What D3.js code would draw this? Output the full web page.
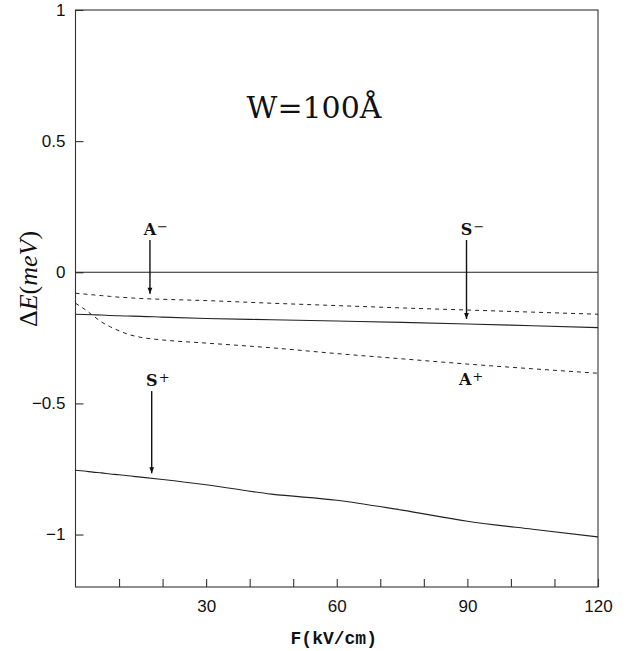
<!DOCTYPE html>
<html>
<head>
<meta charset="utf-8">
<script src="https://cdn.jsdelivr.net/npm/d3@7"></script>
<style>
  html, body { margin: 0; padding: 0; background: #fff; }
  svg { display: block; }
</style>
</head>
<body>
<svg id="chart" width="626" height="651"></svg>
<script>
// Field strength F (kV/cm) sampling grid
const fieldF = [0, 2, 4, 6, 8, 10, 12, 15, 20, 30, 45, 60, 75, 90, 105, 120];

// Energy shifts ΔE (meV) of the four levels
const aMinus = [-0.080, -0.083, -0.086, -0.089, -0.092, -0.095, -0.097, -0.100, -0.103, -0.108, -0.118, -0.127, -0.136, -0.144, -0.152, -0.160];
const sMinus = [-0.160, -0.161, -0.162, -0.163, -0.165, -0.166, -0.167, -0.168, -0.171, -0.176, -0.181, -0.186, -0.191, -0.197, -0.204, -0.211];
const aPlus  = [-0.118, -0.140, -0.165, -0.190, -0.208, -0.223, -0.236, -0.248, -0.258, -0.270, -0.288, -0.310, -0.330, -0.350, -0.368, -0.385];
const sPlus  = [-0.755, -0.758, -0.762, -0.765, -0.769, -0.772, -0.776, -0.781, -0.790, -0.810, -0.846, -0.869, -0.907, -0.949, -0.980, -1.009];

// Axis ticks
const xTicks = [10, 20, 30, 40, 50, 60, 70, 80, 90, 100, 110, 120];
const xLabelled = [30, 60, 90, 120];
const yTicks = [1, 0.5, 0, -0.5, -1];

// Level labels: letter, sign, field position, label height (meV), series the arrow points at
const labelNames = ["A", "S", "S", "A"];
const labelSigns = ["\u2212", "\u2212", "+", "+"];
const labelF     = [17.1, 89.8, 17.5, 89.5];
const labelE     = [0.142, 0.142, -0.434, -0.428];
const labelArrowTo = ["aMinus", "sMinus", "sPlus", null];

const seriesByName = { aMinus, sMinus, aPlus, sPlus };

const svg = d3.select("#chart");
const plotLeft = 75.5, plotRight = 598, plotTop = 10, plotBottom = 587;

const x = d3.scaleLinear().domain([0, 120]).range([plotLeft, plotRight]);
const y = d3.scaleLinear().domain([-1.2, 1]).range([plotBottom, plotTop]);

const ink = "#222";

// Frame
svg.append("rect")
  .attr("x", plotLeft).attr("y", plotTop)
  .attr("width", plotRight - plotLeft).attr("height", plotBottom - plotTop)
  .attr("fill", "none").attr("stroke", "#333").attr("stroke-width", 1.1);

// Bottom axis: inward ticks every 10, labels every 30
const xAxis = d3.axisBottom(x)
  .tickValues(xTicks)
  .tickSizeInner(-8).tickSizeOuter(0)
  .tickPadding(13)
  .tickFormat(d => xLabelled.includes(d) ? String(d) : "");
const gx = svg.append("g").attr("transform", `translate(0,${plotBottom})`).call(xAxis);
gx.select(".domain").remove();
gx.selectAll(".tick line").attr("stroke", "#333").attr("stroke-width", 1.1);
gx.selectAll(".tick text")
  .attr("fill", "#111")
  .style("font-family", "'Liberation Sans', Arial, sans-serif")
  .style("font-size", "17px");

// Left axis: inward ticks
const yAxis = d3.axisLeft(y)
  .tickValues(yTicks)
  .tickSizeInner(-8).tickSizeOuter(0)
  .tickPadding(10)
  .tickFormat(d3.format("~g"));
const gy = svg.append("g").attr("transform", `translate(${plotLeft},0)`).call(yAxis);
gy.select(".domain").remove();
gy.selectAll(".tick line").attr("stroke", "#333").attr("stroke-width", 1.1);
gy.selectAll(".tick text")
  .attr("fill", "#111")
  .style("font-family", "'Liberation Sans', Arial, sans-serif")
  .style("font-size", "17px");

// Zero reference line
svg.append("line")
  .attr("x1", x(0)).attr("x2", x(120))
  .attr("y1", y(0)).attr("y2", y(0))
  .attr("stroke", ink).attr("stroke-width", 1.1);

// Level curves
const line = d3.line()
  .x((d, i) => x(fieldF[i]))
  .y(d => y(d))
  .curve(d3.curveMonotoneX);

const curves = [
  { values: aMinus, dashed: true },
  { values: sMinus, dashed: false },
  { values: aPlus,  dashed: true },
  { values: sPlus,  dashed: false }
];

svg.append("g").selectAll("path")
  .data(curves)
  .join("path")
  .attr("d", d => line(d.values))
  .attr("fill", "none")
  .attr("stroke", ink)
  .attr("stroke-width", d => d.dashed ? 1 : 1.1)
  .attr("stroke-dasharray", d => d.dashed ? "4,4" : null);

// Arrow head
svg.append("defs").append("marker")
  .attr("id", "head")
  .attr("viewBox", "0 0 10 10")
  .attr("refX", 10).attr("refY", 5)
  .attr("markerUnits", "userSpaceOnUse")
  .attr("markerWidth", 10).attr("markerHeight", 6)
  .attr("orient", "auto")
  .append("path").attr("d", "M0,1 L10,5 L0,9 Z").attr("fill", "#111");

// Level labels with arrows
const letterFont = "'DejaVu Serif', serif";
labelNames.forEach((name, i) => {
  const lx = x(labelF[i]);
  const ly = y(labelE[i]);
  const g = svg.append("g");
  g.append("text")
    .attr("x", lx).attr("y", ly)
    .attr("text-anchor", "middle")
    .attr("fill", "#111")
    .style("font-family", letterFont)
    .style("font-weight", "bold")
    .style("font-size", "16px")
    .text(name);
  g.append("text")
    .attr("x", lx + 7).attr("y", ly - 4)
    .attr("fill", "#111")
    .style("font-family", letterFont)
    .style("font-size", "13px")
    .text(labelSigns[i]);
  const target = labelArrowTo[i];
  if (target) {
    const interp = d3.scaleLinear().domain(fieldF).range(seriesByName[target]);
    const tipY = y(interp(labelF[i])) - 5;
    g.append("line")
      .attr("x1", lx).attr("x2", lx)
      .attr("y1", ly + 5).attr("y2", tipY)
      .attr("stroke", "#111").attr("stroke-width", 1.4)
      .attr("marker-end", "url(#head)");
  }
});

// Well width annotation
svg.append("text")
  .attr("x", 314).attr("y", 118)
  .attr("text-anchor", "middle")
  .attr("fill", "#111")
  .style("font-family", "'DejaVu Serif', serif")
  .style("font-size", "30px")
  .text("W=100Å");

// Axis titles
svg.append("text")
  .attr("x", (plotLeft + plotRight) / 2 - 3).attr("y", 644)
  .attr("text-anchor", "middle")
  .attr("fill", "#111")
  .style("font-family", "'Liberation Mono', 'Courier New', monospace")
  .style("font-weight", "bold")
  .style("font-size", "18px")
  .text("F(kV/cm)");

const yTitle = svg.append("text")
  .attr("transform", "translate(37,279) rotate(-90)")
  .attr("text-anchor", "middle")
  .attr("fill", "#111")
  .style("font-family", "'Liberation Serif', 'Times New Roman', serif")
  .style("font-size", "26px");
yTitle.append("tspan").text("Δ");
yTitle.append("tspan").style("font-style", "italic").text("E");
yTitle.append("tspan").text("(");
yTitle.append("tspan").style("font-style", "italic").text("meV");
yTitle.append("tspan").text(")");
</script>
</body>
</html>
